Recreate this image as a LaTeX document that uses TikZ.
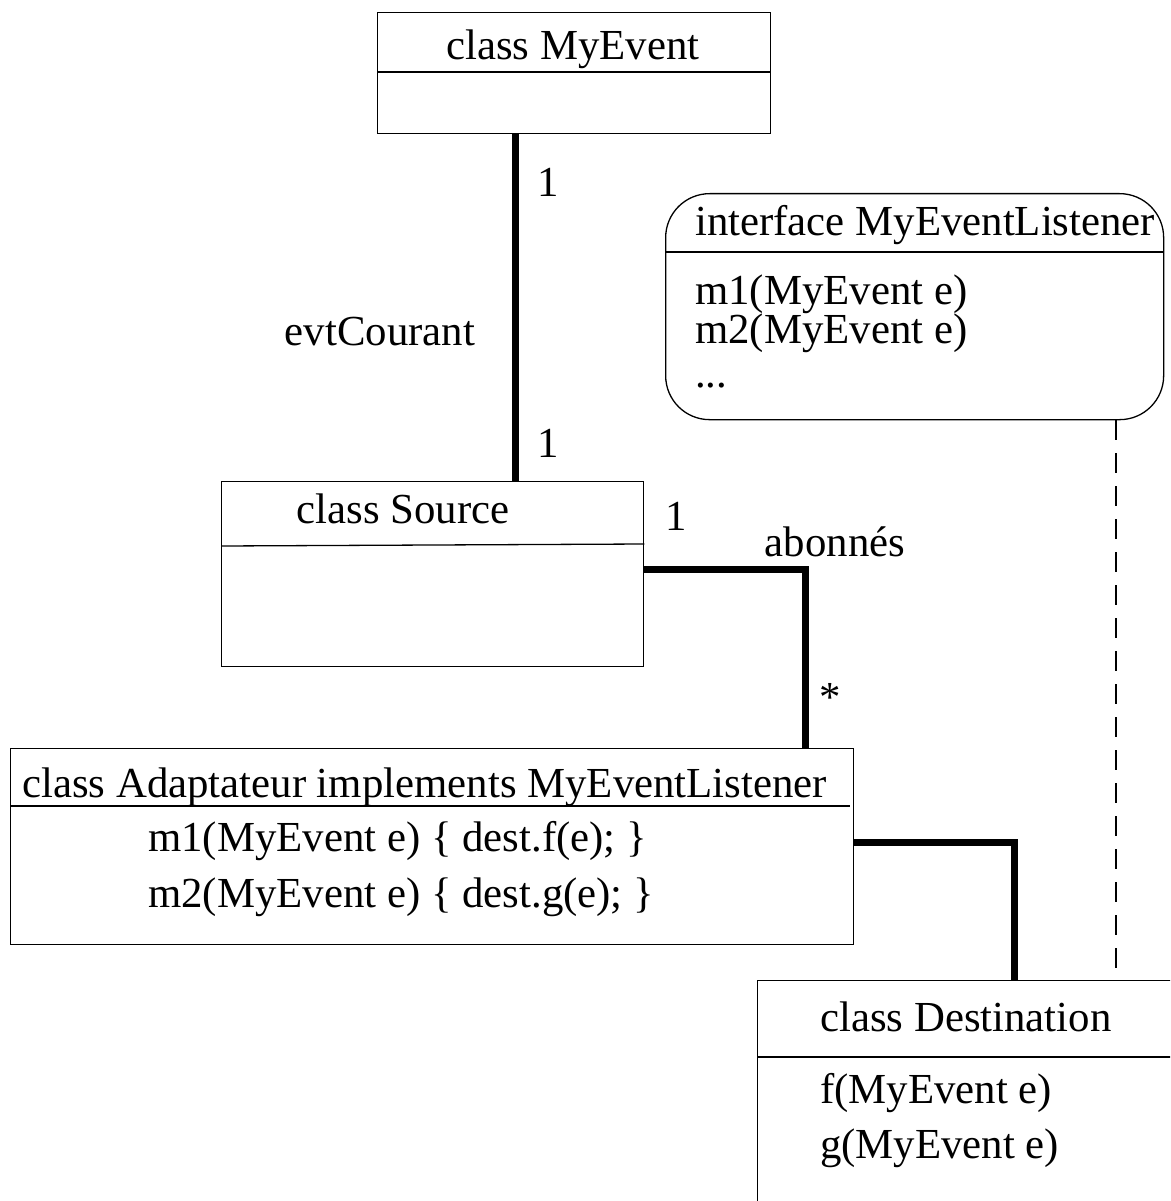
\documentclass[tikz,border=0pt]{standalone}
\usepackage{fontspec}
\setmainfont{Liberation Serif}
\usetikzlibrary{calc}
\begin{document}
\begin{tikzpicture}[x=1pt,y=-1pt,
  box/.style={draw, line width=1.3pt, inner sep=0pt, anchor=north west},
  txt/.style={font=\fontsize{42.8}{48}\selectfont, inner sep=0pt},
  divider/.style={line width=1.3pt},
  assoc/.style={line width=7pt},
  realize/.style={line width=1.3pt, dash pattern=on 20pt off 13pt}]
\useasboundingbox (0,0) rectangle (1170,1201);
\clip (0,0) rectangle (1170,1201);
% boxes
\node[box, minimum width=393pt, minimum height=121pt] (myevent) at (377,12) {};
\node[box, minimum width=498pt, minimum height=226pt, rounded corners=44pt] (iface) at (665,193) {};
\node[box, minimum width=422pt, minimum height=185pt] (source) at (221,481) {};
\node[box, minimum width=843pt, minimum height=196pt] (adapt) at (10,748) {};
\node[box, minimum width=500pt, minimum height=320pt] (dest) at (757,980) {};
% dividers
\draw[divider] ($(myevent.north west)+(0,60)$) -- ($(myevent.north east)+(0,60)$);
\draw[divider] ($(iface.north west)+(0,59)$) -- ($(iface.north east)+(0,59)$);
\draw[divider] ($(source.north west)+(0,65)$) -- ($(source.north east)+(0,63)$);
\draw[divider] ($(adapt.north west)+(0,58)$) -- ($(adapt.north east)+(-4,58)$);
\draw[divider] ($(dest.north west)+(0,77)$) -- ($(dest.north east)+(0,77)$);
% texts
\node[txt, anchor=base] (tmyevent) at (573,60) {class MyEvent};
\node[txt, anchor=base west] (tiface) at (695,235) {interface MyEventListener};
\node[txt, anchor=base west] (tim1) at (695,304) {m1(MyEvent e)};
\node[txt, anchor=base west] (tim2) at (695,343) {m2(MyEvent e)};
\node[txt, anchor=base west] (tidots) at (695,387) {...};
\node[txt, anchor=base] (tsource) at (403,523) {class Source};
\node[txt, anchor=base west] (tadapt) at (22,797) {class Adaptateur implements MyEventListener};
\node[txt, anchor=base west] (tam1) at (148,851) {m1(MyEvent e) \{ dest.f(e); \}};
\node[txt, anchor=base west] (tam2) at (148,907) {m2(MyEvent e) \{ dest.g(e); \}};
\node[txt, anchor=base west] (tdest) at (820,1031) {class Destination};
\node[txt, anchor=base west] (tdf) at (820,1103) {f(MyEvent e)};
\node[txt, anchor=base west] (tdg) at (820,1158) {g(MyEvent e)};
% connectors
\coordinate (c1) at (515,0);
\draw[assoc] (myevent.south -| c1) -- (source.north -| c1);
\coordinate (bend1) at (805,569);
\draw[assoc] (source.east |- bend1) -- (bend1) -- (adapt.north -| bend1);
\coordinate (bend2) at (1014,842);
\draw[assoc] (adapt.east |- bend2) -- (bend2) -- (dest.north -| bend2);
\coordinate (c2) at (1116,0);
\draw[realize] (iface.south -| c2) -- (dest.north -| c2);
% association labels
\node[txt] (m1a) at (548,182) {1};
\node[txt] (m1b) at (548,443) {1};
\node[txt] (role1) at (380,332) {evtCourant};
\node[txt] (m2a) at (676,516) {1};
\node[txt] (role2) at (835,542) {abonnés};
\node[txt] (m2b) at (830,697) {*};
\end{tikzpicture}
\end{document}
